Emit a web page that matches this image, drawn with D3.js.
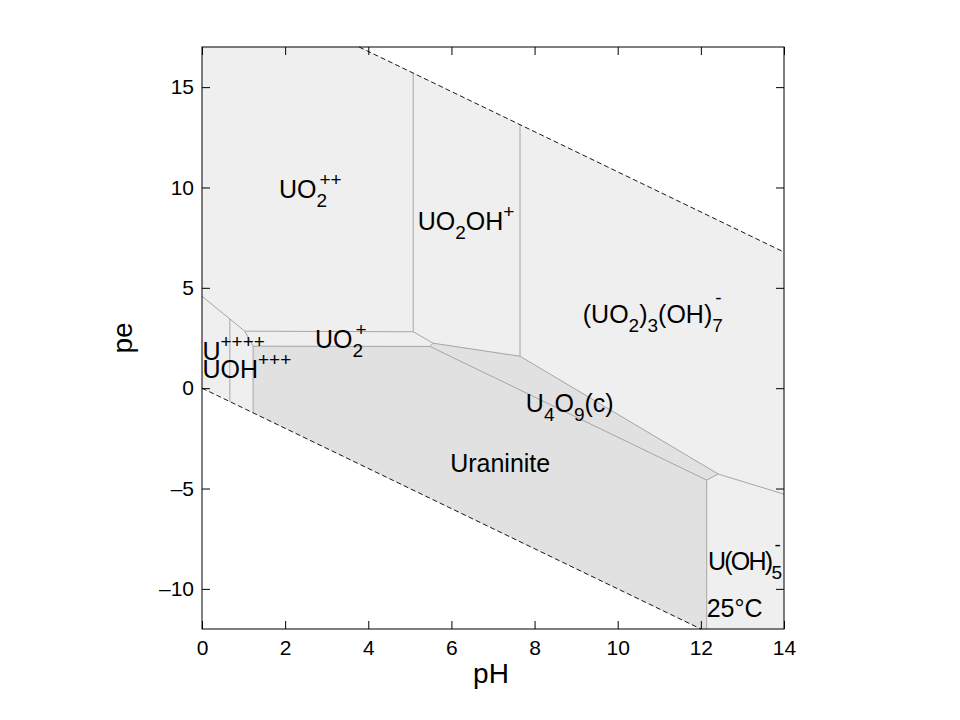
<!DOCTYPE html>
<html>
<head>
<meta charset="utf-8">
<script src="https://cdn.jsdelivr.net/npm/d3@7"></script>
<style>
  body { margin: 0; background: #fff; }
  text { font-family: "Liberation Sans", Arial, Helvetica, sans-serif; fill: #000; }
</style>
</head>
<body>
<svg width="960" height="720"></svg>
<script>
// ---- data (pH, pe) ----
var xTicks = [0, 2, 4, 6, 8, 10, 12, 14];
var yTicks = [-10, -5, 0, 5, 10, 15];

// water stability limits (dashed)
var upperWater = [[3.78, 17], [14, 6.78]];
var lowerWater = [[0, 0], [12, -12]];

// predominance fields
var fieldUO2 = [[0, 17], [3.78, 17], [5.08, 15.7], [5.08, 2.81], [1.03, 2.84], [0, 4.58]];
var fieldUO2OH = [[5.08, 15.7], [7.65, 13.13], [7.65, 1.59], [5.56, 2.24], [5.08, 2.81]];
var fieldUO2OH7 = [[7.65, 13.13], [14, 6.78], [14, -5.28], [12.42, -4.28], [7.65, 1.59]];
var fieldU4 = [[0, 4.58], [0.67, 3.45], [0.67, -0.67], [0, 0]];
var fieldUOH3 = [[0.67, 3.45], [1.03, 2.84], [1.23, 2.09], [1.23, -1.23], [0.67, -0.67]];
var fieldUO2p = [[1.03, 2.84], [5.08, 2.81], [5.56, 2.24], [5.48, 2.08], [1.23, 2.09]];
var fieldU4O9 = [[5.48, 2.08], [5.56, 2.24], [7.65, 1.59], [12.42, -4.28], [12.14, -4.58]];
var fieldUraninite = [[1.23, 2.09], [5.48, 2.08], [12.14, -4.58], [12.14, -12], [12, -12], [1.23, -1.23]];
var fieldUOH5 = [[12.14, -4.58], [12.42, -4.28], [14, -5.28], [14, -12], [12.14, -12]];

// boundary lines between fields
var lineA = [[0, 4.58], [1.03, 2.84], [5.08, 2.81], [5.56, 2.24], [7.65, 1.59], [12.42, -4.28], [14, -5.28]];
var lineB = [[1.03, 2.84], [1.23, 2.09], [5.48, 2.08], [12.14, -4.58], [12.42, -4.28]];
var lineC = [[5.48, 2.08], [5.56, 2.24]];
var lineD = [[5.08, 15.7], [5.08, 2.81]];
var lineE = [[7.65, 13.13], [7.65, 1.59]];
var lineF = [[0.67, 3.45], [0.67, -0.67]];
var lineG = [[1.23, 2.09], [1.23, -1.23]];
var lineH = [[12.14, -4.58], [12.14, -12]];

// species labels: [normal, subscript, superscript] pieces
var labelText = [
  [["UO", "2", "++"]],
  [["UO", "2", ""], ["OH", "", "+"]],
  [["(UO", "2", ""], [")", "3", ""], ["(OH)", "7", "-"]],
  [["U", "", "++++"]],
  [["UOH", "", "+++"]],
  [["UO", "2", "+"]],
  [["U", "4", ""], ["O", "9", ""], ["(c)", "", ""]],
  [["Uraninite", "", ""]],
  [["U(OH)", "5", "-"]],
  [["25\u00B0C", "", ""]]
];
var labelPH = [1.85, 5.19, 9.16, 0.01, 0.01, 2.72, 7.79, 5.97, 12.17, 12.14];
var labelPE = [9.48, 7.88, 3.26, 1.41, 0.51, 2.0, -1.17, -4.16, -9.06, -11.39];

// ---- drawing ----
var svg = d3.select("svg");

var x = d3.scaleLinear().domain([0, 14]).range([202, 784]);
var y = d3.scaleLinear().domain([-12, 17]).range([629, 47]);

var line = d3.line().x(d => x(d[0])).y(d => y(d[1]));

var light = "#efefef", dark = "#e1e1e1";

var fields = [
  [fieldUO2, light], [fieldUO2OH, light], [fieldUO2OH7, light],
  [fieldU4, light], [fieldUOH3, light], [fieldUO2p, light],
  [fieldU4O9, dark], [fieldUraninite, dark], [fieldUOH5, light]
];

svg.append("g")
  .selectAll("path")
  .data(fields)
  .join("path")
    .attr("d", d => line(d[0]) + "Z")
    .attr("fill", d => d[1])
    .attr("stroke", d => d[1])
    .attr("stroke-width", 0.5);

svg.append("g")
    .attr("fill", "none")
    .attr("stroke", "#a6a6a6")
    .attr("stroke-width", 1)
  .selectAll("path")
  .data([lineA, lineB, lineC, lineD, lineE, lineF, lineG, lineH])
  .join("path")
    .attr("d", line);

svg.append("g")
    .attr("fill", "none")
    .attr("stroke", "#000")
    .attr("stroke-width", 0.9)
    .attr("stroke-dasharray", "5,3")
  .selectAll("path")
  .data([upperWater, lowerWater])
  .join("path")
    .attr("d", line);

// axes with inward ticks on all four sides
var tickFont = 21;
var fmt = d => d < 0 ? "\u2013" + (-d) : "" + d;

svg.append("g").attr("transform", "translate(0,629)")
  .call(d3.axisBottom(x).tickValues(xTicks).tickSize(-8).tickPadding(11).tickFormat(fmt));
svg.append("g").attr("transform", "translate(202,0)")
  .call(d3.axisLeft(y).tickValues(yTicks).tickSize(-8).tickPadding(8).tickFormat(fmt));
svg.append("g").attr("transform", "translate(0,47)")
  .call(d3.axisTop(x).tickValues(xTicks).tickSize(-8).tickFormat(""));
svg.append("g").attr("transform", "translate(784,0)")
  .call(d3.axisRight(y).tickValues(yTicks).tickSize(-8).tickFormat(""));

svg.selectAll(".domain").remove();
svg.selectAll(".tick line").attr("stroke", "#000");
svg.selectAll(".tick text")
  .style("font-family", "'Liberation Sans', Arial, sans-serif")
  .style("font-size", tickFont + "px")
  .attr("fill", "#000");

svg.append("rect")
  .attr("x", 202).attr("y", 47)
  .attr("width", 582).attr("height", 582)
  .attr("fill", "none")
  .attr("stroke", "#000")
  .attr("stroke-width", 1);

// axis titles
svg.append("text")
  .attr("x", 491).attr("y", 683)
  .attr("text-anchor", "middle")
  .style("font-size", "28px")
  .text("pH");

svg.append("text")
  .attr("transform", "translate(132,338) rotate(-90)")
  .attr("text-anchor", "middle")
  .style("font-size", "28px")
  .text("pe");

// species labels with sub/superscripts stacked
var labels = svg.append("g");

function drawLabel(parts, x0, by, squeeze) {
  var g = labels.append("g");
  var cx = x0;
  parts.forEach(function(p) {
    if (p[0]) {
      var t = g.append("text")
        .attr("x", cx).attr("y", by)
        .style("font-size", "25px")
        .style("letter-spacing", (-squeeze) + "px")
        .text(p[0]);
      cx += t.node().getComputedTextLength();
    }
    var w = 0;
    if (p[1]) {
      var s = g.append("text")
        .attr("x", cx).attr("y", by + 9)
        .style("font-size", "19px")
        .text(p[1]);
      w = Math.max(w, s.node().getComputedTextLength());
    }
    if (p[2]) {
      var up = p[2] === "-" ? 19 : 12;
      var off = p[1] ? 3 : 0;
      var u = g.append("text")
        .attr("x", cx + off).attr("y", by - up)
        .style("font-size", "19px")
        .text(p[2]);
      w = Math.max(w, u.node().getComputedTextLength() + off);
    }
    cx += w;
  });
  return { g: g, end: cx };
}

labelText.forEach(function(parts, i) {
  var x0 = x(labelPH[i]), by = y(labelPE[i]);
  var r = drawLabel(parts, x0, by, 0);
  // keep labels inside the frame by tightening the letters
  var over = r.end - (x.range()[1] - 2);
  if (over > 0) {
    var n = d3.sum(parts, p => p[0].length);
    r.g.remove();
    drawLabel(parts, x0, by, Math.min(2.5, over / n));
  }
});
</script>
</body>
</html>
